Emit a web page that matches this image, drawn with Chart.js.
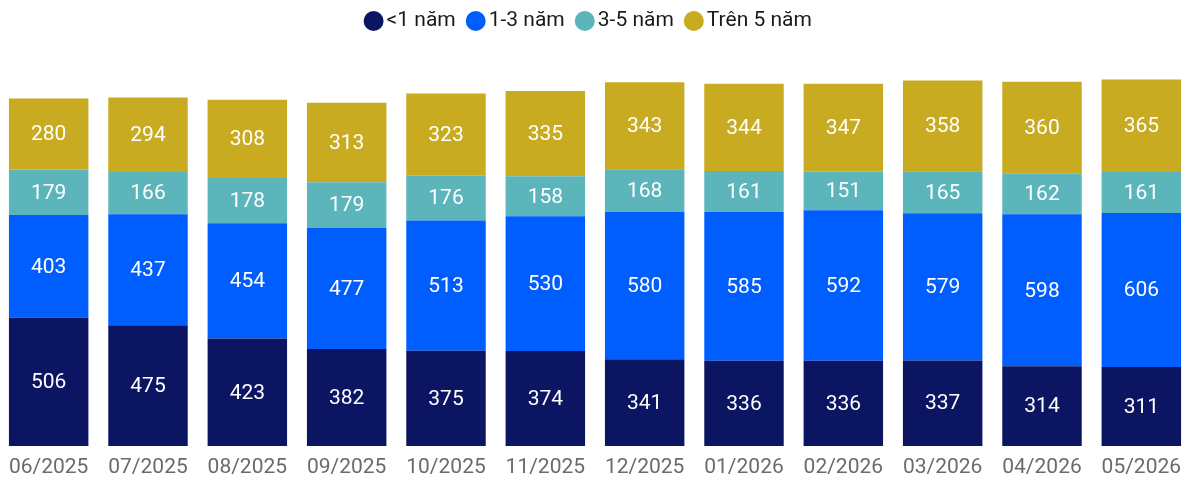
<!DOCTYPE html>
<html>
<head>
<meta charset="utf-8">
<script src="https://cdn.jsdelivr.net/npm/chart.js@4.4.1/dist/chart.umd.min.js"></script>
<style>
  html, body { margin: 0; padding: 0; background: #fff; overflow: hidden; }
  #wrap { position: relative; width: 1192px; height: 481px; margin-left: -1px; }
</style>
</head>
<body>
<div id="wrap"><canvas id="myChart"></canvas></div>
<script>
// months on the x axis
var months = ['06/2025', '07/2025', '08/2025', '09/2025', '10/2025', '11/2025',
  '12/2025', '01/2026', '02/2026', '03/2026', '04/2026', '05/2026'];

// series values
var under1 = [506, 475, 423, 382, 375, 374, 341, 336, 336, 337, 314, 311];
var from1to3 = [403, 437, 454, 477, 513, 530, 580, 585, 592, 579, 598, 606];
var from3to5 = [179, 166, 178, 179, 176, 158, 168, 161, 151, 165, 162, 161];
var over5 = [280, 294, 308, 313, 323, 335, 343, 344, 347, 358, 360, 365];

var seriesNames = ['<1 năm', '1-3 năm', '3-5 năm', 'Trên 5 năm'];
var seriesColors = ['#0b1562', '#005eff', '#5db5bc', '#c8ab21'];

// white value labels in the middle of every segment
var barLabels = {
  id: 'barLabels',
  afterDatasetsDraw: function (chart) {
    var ctx = chart.ctx;
    ctx.save();
    ctx.fillStyle = '#ffffff';
    ctx.font = '21px Roboto';
    ctx.textAlign = 'center';
    ctx.textBaseline = 'middle';
    chart.data.datasets.forEach(function (ds, i) {
      var meta = chart.getDatasetMeta(i);
      meta.data.forEach(function (bar, j) {
        var p = bar.getCenterPoint();
        ctx.fillText(ds.data[j], p.x, p.y + 1);
      });
    });
    ctx.restore();
  }
};

// nudge the legend a little (down 2px, centre 3.5px left) without touching the plot area
var legendNudge = {
  id: 'legendNudge',
  afterLayout: function (chart) {
    var lg = chart.legend;
    lg.top += 2;
    lg.bottom += 2;
    lg.left -= 7;
  }
};

var ctx = document.getElementById('myChart').getContext('2d');
var myChart = new Chart(ctx, {
  type: 'bar',
  data: {
    labels: months,
    datasets: [under1, from1to3, from3to5, over5].map(function (d, i) {
      return {
        label: seriesNames[i],
        data: d,
        backgroundColor: seriesColors[i],
        borderWidth: 0,
        categoryPercentage: 1,
        barPercentage: 0.8
      };
    })
  },
  options: {
    responsive: true,
    maintainAspectRatio: false,
    animation: false,
    layout: { padding: { top: -9, left: 0, right: 0, bottom: 0 } },
    plugins: {
      legend: {
        position: 'top',
        labels: {
          usePointStyle: true,
          pointStyle: 'circle',
          boxWidth: 5,
          boxHeight: 14.14,
          padding: 17.5,
          color: '#1a1a1a',
          font: { family: 'Roboto', size: 21 }
        }
      },
      tooltip: { enabled: false }
    },
    scales: {
      x: {
        stacked: true,
        grid: { display: false, drawTicks: true },
        border: { display: false },
        ticks: { color: '#6b6b6b', padding: 1, font: { family: 'Roboto', size: 21 }, maxRotation: 0 },
        afterFit: function (scale) { scale.height = 35; }
      },
      y: {
        stacked: true,
        display: false,
        min: 0,
        max: 1600
      }
    }
  },
  plugins: [barLabels, legendNudge]
});
</script>
</body>
</html>
